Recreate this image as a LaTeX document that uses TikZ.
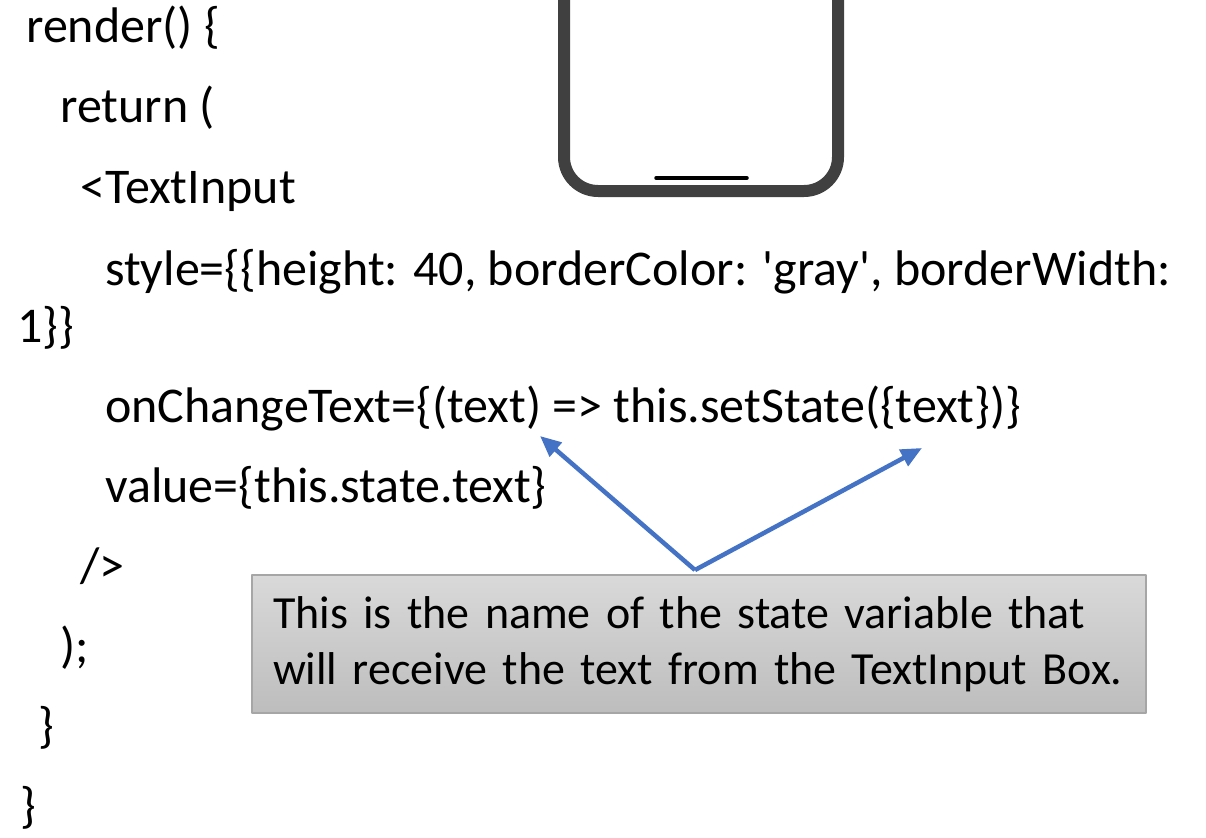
\documentclass[tikz,border=0pt]{standalone}
\usepackage{fontspec}
\setmainfont{Carlito}
\usetikzlibrary{arrows.meta}
\definecolor{phonegray}{HTML}{404040}
\definecolor{arrowblue}{HTML}{4472C4}
\definecolor{boxline}{HTML}{A6A6A6}
\definecolor{boxtop}{HTML}{D9D9D9}
\definecolor{boxbot}{HTML}{BDBDBD}
\tikzset{
  code/.style={anchor=base west,inner sep=0pt,font=\fontsize{50}{57}\selectfont},
  pointer/.style={draw=arrowblue,line width=4.5pt,-{Triangle[length=21pt,width=18pt]}},
  callout/.style={draw=boxline,line width=2pt,top color=boxtop,bottom color=boxbot,
    anchor=north west,minimum width=894pt,minimum height=138pt,
    text width=852pt,inner xsep=21pt,align=left,font=\fontsize{46}{56}\selectfont},
}
\begin{document}
\begin{tikzpicture}[x=1pt,y=-1pt,line join=round]
    \useasboundingbox (0,0) rectangle (1206,837);
    \clip (0,0) rectangle (1206,837);

    % phone outline
    \begin{scope}
      \draw[phonegray,line width=12pt,rounded corners=34pt] (564,-60) rectangle (838,191);
      \draw[line width=3.5pt,line cap=round] (656,178) -- (747,178);
    \end{scope}

    % code
    \node[code] (l1) at (26,43) {render() \{};
    \node[code] (l2) at (60,123) {return (};
    \node[code] (l3) at (80,203) {<TextInput};
    \node[code] (l4) at (105,285) {style=\{\{height: 40, borderColor: \textquotesingle gray\textquotesingle, borderWidth:};
    \node[code] (l4b) at (17,342) {1\}\}};
    \node[code] (l5) at (105,422) {onChangeText=\{(text) => this.setState(\{text\})\}};
    \node[code] (l6) at (105,502) {value=\{this.state.text\}};
    \node[code] (l7) at (80,582) {/>};
    \node[code] (l8) at (60,662) {);};
    \node[code] (l9) at (38,742) {\}};
    \node[code] (l10) at (20,822) {\}};

    % note
    \node[callout] (note) at (251,574) {This is the name of the state variable that\\will receive the text from the TextInput Box.};
    \coordinate (fork) at (695,570);
    \coordinate (argtext) at (540,436);
    \coordinate (objtext) at (922,448);
    \draw[pointer] (fork) -- (argtext);
    \draw[pointer] (fork) -- (objtext);
\end{tikzpicture}
\end{document}
